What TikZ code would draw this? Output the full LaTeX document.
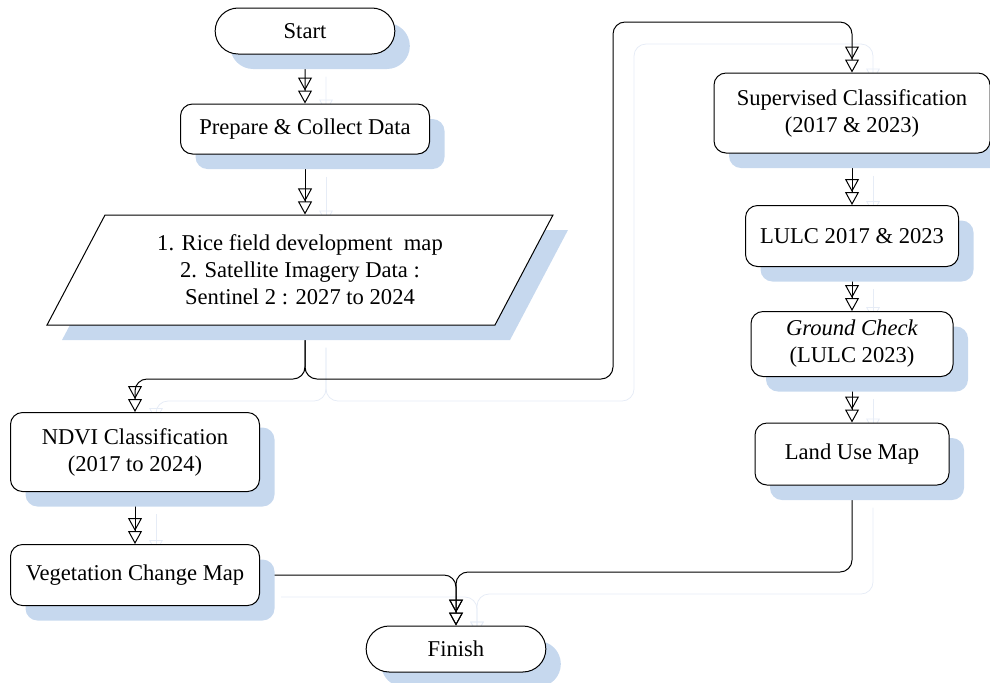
\documentclass[tikz,border=0pt]{standalone}
\usepackage{fontspec}
\setmainfont{Liberation Serif}
\usetikzlibrary{arrows.meta,shapes.geometric,shapes.misc,shadows,backgrounds}
\definecolor{boxshadow}{RGB}{198,216,238}
\definecolor{lineshadow}{RGB}{230,236,246}
\tikzset{
  shade box/.style={drop shadow={shadow xshift=7.5pt,shadow yshift=-7.5pt,fill=boxshadow,opacity=1}},
  terminal/.style={draw, rounded rectangle, fill=white, shade box, minimum width=96.5pt, minimum height=23pt},
  process/.style={draw, rounded corners=6pt, fill=white, shade box, align=center},
  inout/.style={draw, trapezium, trapezium left angle=62, trapezium right angle=118, trapezium stretches=true, fill=white, shade box, align=center, minimum width=253pt, minimum height=55pt},
  flow/.style={-{Triangle[open,length=6.5pt,width=7pt]Triangle[open,length=6.5pt,width=7pt]}, line width=0.5pt, rounded corners=6pt,
    preaction={draw=lineshadow, transform canvas={shift={(21,22)}}}}
}
\begin{document}
\begin{tikzpicture}[x=0.5pt,y=-0.5pt,line width=0.5pt,font=\fontsize{11.3}{13.5}\selectfont]
  \useasboundingbox (0,0) rectangle (990,682);

  % left branch
  \node[terminal] (Start) at (305,31) {Start};
  \node[process, minimum width=124.5pt, minimum height=25pt] (Prepare) at (305,129) {Prepare \& Collect Data};
  \node[inout] (Data) at (300,270) {1. Rice field development\ \ map\\2. Satellite Imagery Data :\\Sentinel 2 : 2027 to 2024};
  \node[process, minimum width=124.5pt, minimum height=39.5pt] (NDVI) at (135,452) {NDVI Classification\\(2017 to 2024)};
  \node[process, minimum width=124.5pt, minimum height=30.5pt] (Vegetation) at (135,575) {Vegetation Change Map};
  \node[terminal] (Finish) at (456,649) {Finish};

  % right branch
  \node[process, minimum width=138pt, minimum height=40pt] (Supervised) at (852,113) {Supervised Classification\\(2017 \& 2023)};
  \node[process, minimum width=106.5pt, minimum height=30.5pt] (LULC) at (852,236) {LULC 2017 \& 2023};
  \node[process, minimum width=101pt, minimum height=32.5pt] (Ground) at (852,344) {\textit{Ground Check}\\(LULC 2023)};
  \node[process, minimum width=97pt, minimum height=31pt] (LandUse) at (852,454) {Land Use Map};

  \coordinate (split) at (305,379);
  \coordinate (top) at (613,22);

  \begin{pgfonlayer}{background}
    \draw[flow] (Start) to (Prepare);
    \draw[flow] (Prepare) to (Prepare |- Data.north);
    \draw[flow] (Data.south -| split) -- (split) -| (NDVI);
    \draw[flow] (Data.south -| split) -- (split) -| (top) -| (Supervised);
    \draw[flow] (NDVI) to (Vegetation);
    \draw[flow] (Vegetation) -| (Finish);
    \draw[flow] (Supervised) to (LULC);
    \draw[flow] (LULC) to (Ground);
    \draw[flow] (Ground) to (LandUse);
    \draw[flow] (LandUse) |- (Finish.north |- 0,572) -- (Finish);
  \end{pgfonlayer}
\end{tikzpicture}
\end{document}
